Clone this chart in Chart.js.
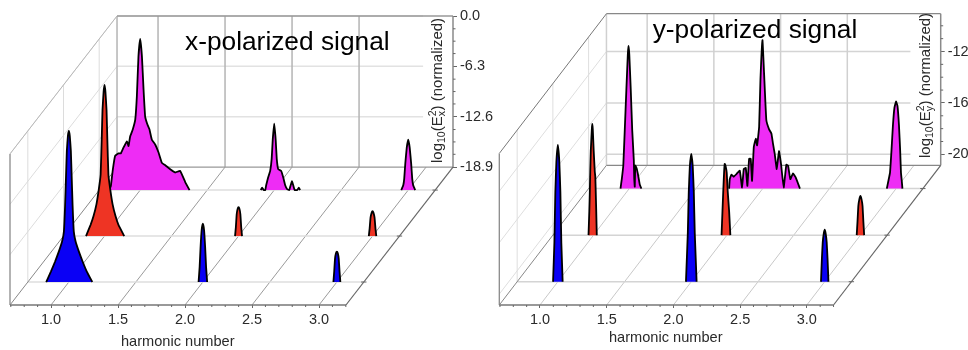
<!DOCTYPE html>
<html>
<head>
<meta charset="utf-8">
<title>x- and y-polarized signal</title>
<script src="https://cdn.jsdelivr.net/npm/chart.js@4/dist/chart.umd.min.js"></script>
<style>
  html, body { margin: 0; background: #fff; }
  #wrap { position: relative; width: 968px; height: 350px; overflow: hidden; }
  canvas { position: absolute; top: 0; }
</style>
</head>
<body>
<div id="wrap">
  <canvas id="chartX" width="500" height="350" style="left:0"></canvas>
  <canvas id="chartY" width="478" height="350" style="left:490px"></canvas>
</div>
<script>
// axis values
const harmonicTicks = [1, 1.5, 2, 2.5, 3];
const harmonicMinor = [0.7, 0.8, 0.9, 1.1, 1.2, 1.3, 1.4, 1.6, 1.7, 1.8, 1.9, 2.1, 2.2, 2.3, 2.4, 2.6, 2.7, 2.8, 2.9, 3.1, 3.2];
const depths = [0.5, 1.5, 2.5]; // blue, red, magenta rows
const xLevels = [0, -6.3, -12.6, -18.9];
const xLevelsMinor = [-1.6, -3.15, -4.7, -7.9, -9.45, -11, -14.2, -15.75, -17.3];
const yLevels = [-12, -16, -20];
const yLevelsMinor = [-10, -11, -13, -14, -15, -17, -18, -19];

// x-polarized signal: harmonic number / log10(E^2)
const xBlue1H = [0.831, 0.866, 0.896, 0.925, 0.950, 0.963, 0.972, 0.979, 0.985, 0.993, 1, 1.007, 1.015, 1.021, 1.028, 1.037, 1.050, 1.075, 1.104, 1.134, 1.175];
const xBlue1V = [-18.9, -17.6, -16.4, -15.1, -13.8, -12.6, -9.3, -5.6, -2.5, -0.6, 0, -0.6, -2.5, -5.6, -9.3, -12.6, -13.8, -15.1, -16.4, -17.6, -18.9];
const xBlue2H = [1.968, 1.976, 1.983, 1.991, 2, 2.009, 2.017, 2.024, 2.032];
const xBlue2V = [-18.9, -17, -14.5, -12.4, -11.6, -12.4, -14.5, -17, -18.9];
const xBlue3H = [2.974, 2.980, 2.986, 2.993, 3, 3.007, 3.014, 3.020, 3.026];
const xBlue3V = [-18.9, -17.6, -16, -15.3, -15.1, -15.3, -16, -17.6, -18.9];
const xRed1H = [0.862, 0.896, 0.918, 0.940, 0.957, 0.971, 0.979, 0.985, 0.993, 1, 1.007, 1.015, 1.021, 1.029, 1.043, 1.060, 1.082, 1.104, 1.147];
const xRed1V = [-18.9, -17.5, -16.4, -14.9, -13.1, -11.2, -6.8, -3.1, -0.9, 0, -0.9, -3.1, -6.8, -11.2, -13.1, -14.9, -16.4, -17.5, -18.9];
const xRed2H = [1.974, 1.980, 1.986, 1.993, 2, 2.007, 2.014, 2.020, 2.026];
const xRed2V = [-18.9, -17.8, -16.2, -15.5, -15.3, -15.5, -16.2, -17.8, -18.9];
const xRed3H = [2.972, 2.978, 2.985, 2.993, 3, 3.007, 3.015, 3.022, 3.028];
const xRed3V = [-18.9, -18, -16.6, -16, -15.8, -16, -16.6, -18, -18.9];
const xMag1H = [0.769, 0.781, 0.796, 0.813, 0.838, 0.856, 0.875, 0.901, 0.913, 0.925, 0.945, 0.963, 0.975, 0.987, 1, 1.013, 1.025, 1.037, 1.054, 1.069, 1.087, 1.112, 1.137, 1.162, 1.187, 1.224, 1.261, 1.298, 1.336, 1.368];
const xMag1V = [-18.9, -18.4, -16.3, -14.6, -14.3, -14.3, -13.6, -12.8, -13.4, -12.2, -11.3, -10.1, -7.2, -2.2, 0, -2.2, -6.3, -9.7, -10.7, -11.3, -12.6, -13.2, -14.2, -15.5, -15.8, -16.3, -16.7, -16.5, -17.9, -18.9];
const xMag2H = [1.899, 1.910, 1.922, 1.933, 1.940, 1.955, 1.970, 1.981, 1.989, 2, 2.011, 2.019, 2.030, 2.052, 2.067, 2.082, 2.097, 2.112, 2.119, 2.132, 2.142, 2.153, 2.172, 2.183, 2.194];
const xMag2V = [-18.9, -18.6, -18.9, -18.9, -18.3, -17.3, -16.5, -15, -12.6, -10.6, -12.6, -15, -16.3, -16.5, -17.3, -18.3, -18.8, -18.9, -18.5, -17.8, -18.3, -18.9, -18.9, -18.6, -18.9];
const xMag3H = [2.948, 2.963, 2.970, 2.978, 2.989, 3, 3.011, 3.022, 3.030, 3.037, 3.052];
const xMag3V = [-18.9, -18.3, -17.5, -15.6, -13.6, -12.6, -13.6, -15.6, -17.5, -18.3, -18.9];

// y-polarized signal
const yBlue1H = [0.964, 0.974, 0.981, 0.989, 1, 1.011, 1.019, 1.026, 1.036];
const yBlue1V = [-20.85, -17.8, -13.9, -11.5, -10.2, -11.5, -13.9, -17.8, -20.85];
const yBlue2H = [1.960, 1.974, 1.981, 1.989, 2, 2.011, 2.019, 2.026, 2.040];
const yBlue2V = [-20.85, -17.05, -13.9, -11.9, -10.9, -11.9, -13.9, -17.05, -20.85];
const yBlue3H = [2.972, 2.979, 2.985, 2.993, 3, 3.007, 3.015, 3.021, 3.028];
const yBlue3V = [-20.85, -19, -17.8, -17.1, -16.8, -17.1, -17.8, -19, -20.85];
const yRed1H = [0.962, 0.968, 0.972, 0.975, 0.979, 0.987, 0.990, 0.994, 1.001, 1.009, 1.013, 1.016, 1.020, 1.024];
const yRed1V = [-20.85, -19, -17.4, -15.9, -14.3, -12.6, -12.2, -12.6, -14.3, -15.9, -16.3, -17.4, -19, -20.85];
const yRed2H = [1.959, 1.966, 1.972, 1.978, 1.983, 1.990, 1.998, 2.005, 2.016, 2.025];
const yRed2V = [-20.85, -19, -17.4, -16, -15.3, -15.5, -16, -17.4, -19, -20.85];
const yRed3H = [2.972, 2.978, 2.984, 2.992, 3, 3.008, 3.016, 3.022, 3.028];
const yRed3V = [-20.85, -19.8, -18.6, -18.05, -17.8, -18.05, -18.6, -19.8, -20.85];
const yMag1H = [0.934, 0.944, 0.955, 0.966, 0.978, 0.989, 0.994, 1, 1.011, 1.022, 1.034, 1.037, 1.041, 1.045, 1.056, 1.064, 1.071, 1.079, 1.091];
const yMag1V = [-20.85, -20.09, -19.06, -16.31, -13.16, -10.4, -9.75, -10.4, -13.16, -16.31, -18.67, -20.09, -20.7, -19.06, -19.3, -19.69, -20.09, -20.56, -20.85];
const yMag2H = [1.748, 1.753, 1.765, 1.783, 1.803, 1.828, 1.845, 1.858, 1.873, 1.885, 1.898, 1.910, 1.920, 1.933, 1.948, 1.958, 1.973, 1.983, 1.998, 2.010, 2.027, 2.047, 2.065, 2.077, 2.090, 2.105, 2.122, 2.137, 2.157, 2.177, 2.190, 2.207, 2.227, 2.247, 2.279];
const yMag2V = [-20.85, -20.12, -19.77, -19.93, -19.72, -19.46, -20.77, -19.33, -19.25, -20.64, -18.54, -18.54, -20.25, -17.62, -16.97, -17.49, -16.05, -12.37, -9.3, -11.85, -15.52, -16.23, -16.57, -17.36, -18.15, -19.33, -17.94, -18.93, -20.77, -18.99, -19.07, -20.12, -19.67, -19.98, -20.85];
const yMag3H = [2.930, 2.942, 2.954, 2.965, 2.976, 2.987, 2.999, 3.010, 3.021, 3.030, 3.036, 3.042, 3.047];
const yMag3V = [-20.85, -20.24, -19.61, -17.88, -15.91, -14.57, -14.08, -14.42, -15.91, -17.88, -19.61, -20.24, -20.85];

const BLUE = '#0a00f5';
const RED = '#ee3424';
const MAGENTA = '#ee2cf5';
const FONT = '"Liberation Sans", Arial, sans-serif';

function buildPanel(canvasId, p) {
  // oblique projection: the back wall (depth 3) keeps its true value, nearer rows slide down and left
  const pt = (h, d, v) => ({ x: h + d * p.skewX, y: v - (3 - d) * p.skewY });
  const sets = [];
  const line = (a, b, color, width) => sets.push({
    data: [pt(a[0], a[1], a[2]), pt(b[0], b[1], b[2])],
    borderColor: color, borderWidth: width, pointRadius: 0, showLine: true, fill: false, clip: false
  });
  const peak = (hs, vs, d, color) => sets.push({
    data: hs.map((h, i) => pt(h, d, vs[i])),
    borderColor: '#000', borderWidth: 1.8, backgroundColor: color, pointRadius: 0, showLine: true,
    tension: 0.1, clip: false, fill: { value: p.vMin - (3 - d) * p.skewY }
  });

  // walls
  p.levels.forEach(v => {
    if (v !== p.vMin) {
      line([p.hMin, 0, v], [p.hMin, 3, v], p.c.wallLine, 1);
      line([p.hMin, 3, v], [p.wallEnd, 3, v], p.c.backH, 1.5);
    }
  });
  depths.forEach(d => line([p.hMin, d, p.vMin], [p.hMin, d, p.vMax], p.c.wallLine, 1));
  harmonicTicks.filter(h => h < 3).forEach(h => line([h, 3, p.vMin], [h, 3, p.vMax], p.c.backV, 1.5));
  line([p.hMin, 3, p.vMin], [p.hMin, 3, p.vMax], p.c.backV, 1.5);

  // floor
  harmonicTicks.forEach(h => line([h, 0, p.vMin], [h, 3, p.vMin], p.c.floor, 1));
  depths.forEach(d => {
    line([p.hMin, d, p.vMin], [p.hMax, d, p.vMin], p.c.row, 1.5);
    line([p.hMax - 0.02, d, p.vMin], [p.hMax + 0.02, d, p.vMin], '#666', 1);
  });

  // box edges
  line([p.hMin, 3, p.vMax], [p.hMax, 3, p.vMax], p.c.top, 1.3);
  line([p.hMin, 3, p.vMin], [p.hMax, 3, p.vMin], p.c.top, 1.3);
  line([p.hMax, 3, p.vMin], [p.hMax, 3, p.vMax], '#8a8a8a', 1.5);
  line([p.hMin, 0, p.vMax], [p.hMin, 3, p.vMax], p.c.topDiag, 1);
  line([p.hMin, 0, p.vMin], [p.hMin, 0, p.vMax], '#8a8a8a', 1.3);
  line([p.hMin, 0, p.vMin], [p.hMin, 3, p.vMin], '#888', 1);
  line([p.hMin, 0, p.vMin], [p.hMax, 0, p.vMin], '#777', 1.3);
  line([p.hMax, 0, p.vMin], [p.hMax, 3, p.vMin], '#666', 1.2);

  // spectra, back row first
  p.mag.forEach(s => peak(s[0], s[1], depths[2], MAGENTA));
  p.red.forEach(s => peak(s[0], s[1], depths[1], RED));
  p.blue.forEach(s => peak(s[0], s[1], depths[0], BLUE));

  // the library paints the first dataset last
  sets.reverse();

  const decorations = {
    id: 'decorations',
    afterDraw(chart) {
      const { ctx, scales: { x, y } } = chart;
      ctx.save();
      ctx.strokeStyle = '#666';
      ctx.lineWidth = 1;
      harmonicMinor.forEach(h => {
        const px = x.getPixelForValue(h);
        ctx.beginPath(); ctx.moveTo(px, y.bottom); ctx.lineTo(px, y.bottom + 2); ctx.stroke();
      });
      p.levelsMinor.forEach(v => {
        const py = y.getPixelForValue(v);
        ctx.beginPath(); ctx.moveTo(x.right, py); ctx.lineTo(x.right + 2.5, py); ctx.stroke();
      });

      ctx.fillStyle = '#000';
      ctx.textBaseline = 'alphabetic';
      ctx.textAlign = 'left';
      ctx.font = '26.3px ' + FONT;
      ctx.fillText(p.title, p.titleX, p.titleY);

      ctx.fillStyle = '#2a2a2a';
      ctx.font = '14.6px ' + FONT;
      ctx.fillText('harmonic number', p.xTitleX, p.xTitleY);

      // rotated y label with sub and superscripts
      ctx.translate(p.yTitleX, p.yTitleY);
      ctx.rotate(-Math.PI / 2);
      let cur = 0;
      const piece = (t, size, dy) => {
        ctx.font = size + 'px ' + FONT;
        ctx.fillText(t, cur, dy);
        return ctx.measureText(t).width;
      };
      cur += piece('log', 15, 0);
      cur += piece('10', 10.5, 3);
      cur += piece('(E', 15, 0);
      const w1 = piece('2', 10.5, -6);
      const w2 = piece(p.sub, 10.5, 3);
      cur += Math.max(w1, w2);
      cur += piece(') (normalized)', 15, 0);
      ctx.restore();
    }
  };

  return new Chart(document.getElementById(canvasId), {
    type: 'scatter',
    data: { datasets: sets },
    plugins: [decorations],
    options: {
      responsive: false,
      animation: false,
      events: [],
      layout: { padding: p.padding },
      plugins: { legend: { display: false }, title: { display: false }, tooltip: { enabled: false } },
      scales: {
        x: {
          type: 'linear',
          min: p.hMin,
          max: p.hMax + 3 * p.skewX,
          afterBuildTicks: s => { s.ticks = harmonicTicks.map(value => ({ value })); },
          afterFit: s => { s.height = 45; s.paddingLeft = 0; s.paddingRight = 0; },
          border: { display: false },
          grid: { drawOnChartArea: false, tickLength: 3, tickColor: '#666' },
          ticks: { color: '#2a2a2a', font: { family: FONT, size: 14.5 }, padding: 3, maxRotation: 0, autoSkip: false, callback: v => v.toFixed(1) }
        },
        y: {
          type: 'linear',
          position: 'right',
          min: p.vMin - 3 * p.skewY,
          max: p.vMax,
          afterBuildTicks: s => { s.ticks = p.levels.map(value => ({ value })); },
          afterFit: s => { s.width = p.axisWidth; s.paddingTop = 0; s.paddingBottom = 0; },
          border: { display: false },
          grid: { drawOnChartArea: false, tickLength: 4, tickColor: '#666' },
          ticks: { color: '#2a2a2a', font: { family: FONT, size: 14.5 }, padding: 3, autoSkip: false, callback: v => p.fmt(v) }
        }
      }
    }
  });
}

buildPanel('chartX', {
  title: 'x-polarized signal', titleX: 185, titleY: 50,
  xTitleX: 121, xTitleY: 346,
  yTitleX: 441.5, yTitleY: 163, sub: 'x',
  hMin: 0.694, hMax: 3.201, vMin: -18.9, vMax: 0, wallEnd: 2.978,
  skewX: 0.2662, skewY: 5.75,
  levels: xLevels, levelsMinor: xLevelsMinor,
  fmt: v => v.toFixed(1),
  padding: { left: 10, top: 16, right: 0, bottom: 0 }, axisWidth: 47,
  c: { wallLine: '#dcdcdc', backH: '#e2e2e2', backV: '#b4b4b4', floor: '#9a9a9a', row: '#dedede', top: '#999', topDiag: '#b8b8b8' },
  blue: [[xBlue1H, xBlue1V], [xBlue2H, xBlue2V], [xBlue3H, xBlue3V]],
  red: [[xRed1H, xRed1V], [xRed2H, xRed2V], [xRed3H, xRed3V]],
  mag: [[xMag1H, xMag1V], [xMag2H, xMag2V], [xMag3H, xMag3V]]
});

buildPanel('chartY', {
  title: 'y-polarized signal', titleX: 162.7, titleY: 38,
  xTitleX: 119, xTitleY: 342,
  yTitleX: 439.7, yTitleY: 158, sub: 'y',
  hMin: 0.695, hMax: 3.2, vMin: -20.85, vMax: -9.06, wallEnd: 2.973,
  skewX: 0.2677, skewY: 3.622,
  levels: yLevels, levelsMinor: yLevelsMinor,
  fmt: v => String(v),
  padding: { left: 9.3, top: 13.7, right: 0, bottom: 0 }, axisWidth: 27.3,
  c: { wallLine: '#dedede', backH: '#d4d4d4', backV: '#d0d0d0', floor: '#c8c8c8', row: '#d4d4d4', top: '#888', topDiag: '#777' },
  blue: [[yBlue1H, yBlue1V], [yBlue2H, yBlue2V], [yBlue3H, yBlue3V]],
  red: [[yRed1H, yRed1V], [yRed2H, yRed2V], [yRed3H, yRed3V]],
  mag: [[yMag1H, yMag1V], [yMag2H, yMag2V], [yMag3H, yMag3V]]
});
</script>
</body>
</html>
